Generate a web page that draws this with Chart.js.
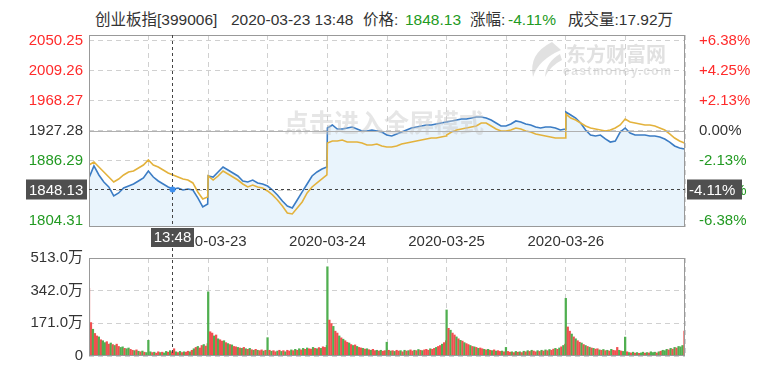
<!DOCTYPE html>
<html>
<head>
<meta charset="utf-8">
<script src="https://cdn.jsdelivr.net/npm/chart.js@4.4.1/dist/chart.umd.min.js"></script>
<style>
body { margin:0; background:#fff; width:770px; height:368px; overflow:hidden; position:relative;
       font-family:"Liberation Sans", Arial, "Noto Sans CJK SC", sans-serif; }
#head { position:absolute; top:11px; left:0; width:770px; height:18px; font-size:15.5px; line-height:18px; color:#333; white-space:nowrap; }
#head span { position:absolute; top:0; }
#head .g { color:#229a22; }
canvas { position:absolute; left:0; }
#priceCanvas { top:0; }
#volCanvas { top:243px; }
</style>
</head>
<body>
<div id="head">
  <span style="left:95px" id="hName"></span>
  <span style="left:231px" id="hTime"></span>
  <span style="left:363px">价格:</span>
  <span style="left:405px" class="g" id="hPrice"></span>
  <span style="left:470px">涨幅:</span>
  <span style="left:508px" class="g" id="hPct"></span>
  <span style="left:568px" id="hVol"></span>
</div>
<canvas id="priceCanvas" width="770" height="250"></canvas>
<canvas id="volCanvas" width="770" height="128"></canvas>
<script>
// info bar / crosshair
const indexName = '创业板指[399006]';
const crossTime = '2020-03-23 13:48';
const crossLabel = '13:48';
const crossPrice = 1848.13;
const crossVolume = '17.92万';
const prevClose = 1927.28;

// tanggal di garis pemisah hari
const dayLabels = ['2020-03-23', '2020-03-24', '2020-03-25', '2020-03-26'];
// label sumbu kiri & kanan
const priceTicks = [1804.31, 1845.30, 1886.29, 1927.28, 1968.27, 2009.26, 2050.25];
const volTicks = [0, 171, 342, 513];

// harga indeks, tiap 10 menit (25 titik per hari, 5 hari)
const indexLine = [
  1863.1,1879.5,1867.2,1857.6,1850.8,1838.5,1842.6,1849.4,1852.1,1854.9,1859.0,1863.1,1872.6,1864.4,1859.0,1854.9,1850.8,1848.1,1849.4,1846.7,1848.1,1846.7,1835.8,1823.5,1827.6,
  1865.8,1864.4,1871.3,1878.1,1874.0,1869.9,1865.8,1859.0,1857.6,1860.3,1856.3,1854.9,1852.1,1846.7,1839.9,1831.6,1824.8,1822.1,1833.0,1844.0,1854.9,1865.8,1871.3,1875.4,1878.1,
  1931.4,1935.5,1930.0,1930.0,1931.4,1932.7,1930.0,1927.3,1927.3,1928.6,1927.3,1925.9,1921.8,1920.4,1923.2,1925.9,1928.6,1931.4,1932.7,1934.1,1935.5,1935.5,1936.8,1938.2,1939.6,
  1939.6,1941.0,1942.3,1943.7,1943.7,1945.0,1946.4,1946.4,1945.0,1942.3,1938.2,1934.1,1934.1,1936.8,1941.0,1939.6,1936.8,1935.5,1932.7,1931.4,1932.7,1932.7,1931.4,1928.6,1930.0,
  1953.2,1949.1,1945.0,1938.2,1928.6,1921.8,1920.4,1921.8,1916.4,1912.2,1913.6,1925.9,1931.4,1924.5,1921.8,1921.8,1921.8,1920.4,1920.4,1919.1,1916.4,1912.2,1906.8,1904.1,1902.7
];
// garis kuning (rata-rata)
const avgLine = [
  1880.8,1884.9,1878.1,1871.3,1864.4,1857.6,1861.7,1867.2,1871.3,1872.6,1876.7,1880.8,1887.7,1880.8,1878.1,1874.0,1869.9,1867.2,1864.4,1861.7,1860.3,1856.3,1844.0,1834.4,1837.1,
  1865.8,1860.3,1865.8,1872.6,1868.5,1864.4,1860.3,1854.9,1850.8,1853.5,1850.8,1849.4,1845.3,1839.9,1833.0,1824.8,1815.3,1813.9,1822.1,1830.3,1842.6,1850.8,1856.3,1861.7,1867.2,
  1910.9,1913.6,1913.6,1915.0,1912.2,1912.2,1912.2,1910.9,1908.2,1908.2,1909.5,1906.8,1905.4,1905.4,1906.8,1909.5,1910.9,1912.2,1913.6,1915.0,1916.4,1917.7,1917.7,1919.1,1920.5,
  1921.8,1925.9,1928.6,1930.0,1931.4,1932.7,1934.1,1938.2,1938.2,1934.1,1930.0,1927.3,1927.3,1928.6,1931.4,1930.0,1927.3,1925.9,1923.2,1921.8,1920.4,1919.1,1917.7,1917.7,1917.7,
  1950.5,1945.0,1942.3,1938.2,1934.1,1931.4,1930.0,1928.6,1927.3,1928.6,1931.4,1935.5,1943.7,1939.6,1938.2,1936.8,1935.5,1935.5,1934.1,1931.4,1928.6,1923.2,1917.7,1913.6,1910.9
];
// volume (万), tiap 4 menit (61 batang per hari)
const volume = [
  354,175,140,118,105,100,85,80,70,75, 62,68,60,55,62,50,45,48,40,38, 42,35,30,28,32,25,22,26,20,18, 82,22,18,20,15,22,18,20,16,24, 20,28,22,38,22,18,24,18,22,20, 25,22,30,38,45,50,42,55,60,52, 65,
  336,127,120,105,110,90,85,78,80,70, 65,60,58,50,48,45,42,40,45,38, 35,40,33,30,35,30,28,32,26,30, 96,30,25,28,22,26,30,24,28,22, 30,26,32,28,35,30,38,32,40,35, 42,38,36,45,40,38,44,40,48,45, 55,
  467,188,170,155,130,120,105,95,88,80, 72,68,60,55,58,50,45,42,40,36, 38,33,30,35,28,30,26,30,25,28, 72,30,26,28,24,30,26,28,22,30, 26,28,32,26,30,28,34,30,28,32, 35,30,38,35,40,45,50,55,62,70, 80,
  241,145,135,120,110,100,90,82,78,70, 65,60,55,50,48,45,40,42,38,35, 32,35,30,28,32,26,28,24,26,22, 45,24,20,22,18,24,20,22,18,25, 22,28,24,30,26,22,28,24,30,26, 32,28,34,30,36,40,35,42,48,55, 62,
  302,152,130,115,100,90,80,72,68,60, 55,50,46,42,40,36,38,32,30,34, 28,30,26,35,30,28,45,30,26,24, 99,22,18,16,20,15,18,14,16,20, 15,18,16,22,18,20,16,22,25,30, 28,35,32,40,36,45,42,50,48,55, 131
];
// warna batang volume: r = naik, g = turun
const volSide = [
  'rrgrrgrggr' + 'rgrgrrggrg' + 'grrgrgrgrg' + 'ggrgrrgrgg' + 'rgrrgrgrgr' + 'rgrgrgrrgr' + 'r',
  'grrgrgrrgr' + 'grgrrgrgrg' + 'rgrgrgrrgr' + 'grgrrgrgrg' + 'rrgrgrgrgr' + 'grrgrgrgrr' + 'g',
  'grrgrrgrgr' + 'rgrgrgrrgr' + 'grgrrgrgrr' + 'grgrgrrgrg' + 'rgrrgrgrgr' + 'rrgrrgrrgr' + 'r',
  'grgrrgrgrg' + 'rrgrgrgrrg' + 'rgrgrgrrgr' + 'grrgrgrgrg' + 'rgrgrrgrgr' + 'grgrrgrgrg' + 'r',
  'grrgrgrrgr' + 'grgrgrrgrg' + 'rgrgrrrgrg' + 'grgrgrgrgg' + 'rgrgggrgrg' + 'ggrgrgrggg' + 'r'
].join('');

const RED = '#ff2b2b', GREEN = '#229a22', TEXT = '#333';
const FONT = '"Liberation Sans", Arial, "Noto Sans CJK SC", sans-serif';
const DAY = 241, DAYS = 5, LINE_STEP = 10, PER_DAY = 25, VOL_STEP = 4, VOL_PER_DAY = 61;
const crossX = 168; // 13:48 di hari pertama

const pct = v => (v / prevClose - 1) * 100;
const pctText = p => (Math.abs(p) < 1e-6 ? '0.00' : (p > 0 ? '+' : '') + p.toFixed(2)) + '%';
const colorFor = (v, base) => v > base + 1e-6 ? RED : (v < base - 1e-6 ? GREEN : TEXT);

document.getElementById('hName').textContent = indexName;
document.getElementById('hTime').textContent = crossTime;
document.getElementById('hPrice').textContent = crossPrice.toFixed(2);
document.getElementById('hPct').textContent = pct(crossPrice).toFixed(2) + '%';
document.getElementById('hVol').textContent = '成交量:' + crossVolume;

const toLine = arr => arr.map((v, i) => ({ x: Math.floor(i / PER_DAY) * DAY + (i % PER_DAY) * LINE_STEP, y: v }));
const volPts = volume.map((v, i) => ({ x: Math.floor(i / VOL_PER_DAY) * DAY + (i % VOL_PER_DAY) * VOL_STEP, y: v }));
const volColors = volume.map((v, i) => volSide.charAt(i) === 'g' ? 'rgb(80,175,80)' : 'rgb(240,80,80)');

const xMax = DAY * DAYS;
const gridX = [];
for (let k = 0; k <= 10; k++) gridX.push(k * xMax / 10);

// ruang kosong di atas/bawah label harga
const tickGap = priceTicks[1] - priceTicks[0];
const yMin = priceTicks[0] - tickGap * 0.2;
const yMax = priceTicks[priceTicks.length - 1] + tickGap * 0.2;

function strokeLine(ctx, x1, y1, x2, y2) {
    ctx.beginPath(); ctx.moveTo(x1, y1); ctx.lineTo(x2, y2); ctx.stroke();
}

const priceOverlay = {
    id: 'priceOverlay',
    afterDatasetsDraw(chart) {
        const ctx = chart.ctx;
        ctx.save();
        ctx.textAlign = 'center';
        ctx.textBaseline = 'middle';
        ctx.fillStyle = 'rgba(200,200,200,0.45)';
        ctx.font = 'bold 25px "Noto Sans CJK SC"';
        ctx.fillText('点击进入全屏模式', 384, 122);

        // logo eastmoney
        ctx.fillStyle = 'rgba(195,195,195,0.5)';
        ctx.beginPath();
        ctx.moveTo(552, 42);
        ctx.quadraticCurveTo(528, 54, 533, 77);
        ctx.quadraticCurveTo(538, 60, 561, 50);
        ctx.closePath();
        ctx.fill();
        ctx.beginPath();
        ctx.moveTo(560, 54);
        ctx.quadraticCurveTo(546, 62, 545, 77);
        ctx.quadraticCurveTo(550, 66, 562, 60);
        ctx.closePath();
        ctx.fill();
        ctx.textAlign = 'left';
        ctx.font = 'bold 20px "Noto Sans CJK SC"';
        ctx.fillText('东方财富网', 566, 54);
        ctx.font = 'bold 12px ' + FONT;
        if ('letterSpacing' in ctx) ctx.letterSpacing = '1.5px';
        ctx.fillText('eastmoney.com', 563, 72);
        ctx.restore();
    },
    afterDraw(chart) {
        const { ctx, chartArea: a, scales } = chart;
        const x = scales.x, y = scales.y;
        ctx.save();
        ctx.lineWidth = 1;

        const y0 = Math.round(y.getPixelForValue(prevClose)) + 0.5;
        ctx.strokeStyle = '#b0b0b0';
        strokeLine(ctx, a.left, y0, a.right, y0);

        ctx.strokeStyle = '#999';
        ctx.strokeRect(a.left + 0.5, a.top + 0.5, a.width - 1, a.height - 1);

        // crosshair
        const cx = Math.round(x.getPixelForValue(crossX)) + 0.5;
        const cy = Math.round(y.getPixelForValue(crossPrice)) + 0.5;
        ctx.strokeStyle = '#444';
        ctx.setLineDash([3, 3]);
        strokeLine(ctx, cx, a.top, cx, a.bottom);
        strokeLine(ctx, a.left, cy, a.right, cy);
        ctx.setLineDash([]);
        ctx.fillStyle = '#3d8fef';
        ctx.beginPath(); ctx.arc(cx, cy, 3, 0, Math.PI * 2); ctx.fill();

        ctx.font = '15px ' + FONT;
        ctx.textBaseline = 'middle';
        ctx.fillStyle = '#4f4f4f';
        ctx.fillRect(26, cy - 10, a.left - 28, 20);
        ctx.fillRect(a.right + 2, cy - 10, 55, 20);
        ctx.fillRect(cx - 21.5, a.bottom + 1, 43, 19);
        ctx.fillStyle = '#fff';
        ctx.textAlign = 'left';
        ctx.fillText(crossPrice.toFixed(2), 29, cy + 1);
        ctx.fillText(pct(crossPrice).toFixed(2) + '%', a.right + 4, cy + 1);
        ctx.textAlign = 'center';
        ctx.fillText(crossLabel, cx, a.bottom + 11);
        ctx.restore();
    }
};

const volOverlay = {
    id: 'volOverlay',
    afterDraw(chart) {
        const { ctx, chartArea: a } = chart;
        ctx.save();
        ctx.lineWidth = 1;
        ctx.strokeStyle = '#999';
        ctx.strokeRect(a.left + 0.5, a.top + 0.5, a.width - 1, a.height - 1);
        const cx = Math.round(chart.scales.x.getPixelForValue(crossX)) + 0.5;
        ctx.strokeStyle = '#444';
        ctx.setLineDash([3, 3]);
        strokeLine(ctx, cx, a.top - 10, cx, a.bottom);
        ctx.restore();
    }
};

const gridStyle = { color: '#d0d0d0', drawTicks: false, offset: false };
const dashStyle = { display: false, dash: [5, 4] };

new Chart(document.getElementById('priceCanvas'), {
    type: 'line',
    data: {
        datasets: [
            {
                label: '指数',
                data: toLine(indexLine),
                borderColor: '#3b7cc4',
                borderWidth: 1.6,
                backgroundColor: '#e9f4fc',
                fill: 'start',
                pointRadius: 0,
                tension: 0,
                order: 2
            },
            {
                label: '均价',
                data: toLine(avgLine),
                borderColor: '#e3b23c',
                borderWidth: 1.6,
                fill: false,
                pointRadius: 0,
                tension: 0,
                order: 1
            }
        ]
    },
    options: {
        responsive: false,
        animation: false,
        events: [],
        layout: { padding: { top: 35, left: 0, right: 0, bottom: 0 } },
        plugins: { legend: { display: false }, tooltip: { enabled: false } },
        scales: {
            x: {
                type: 'linear', min: 0, max: xMax, offset: false,
                afterBuildTicks: s => { s.ticks = gridX.map(v => ({ value: v })); },
                afterFit: s => { s.height = 23; },
                grid: gridStyle, border: dashStyle,
                ticks: {
                    autoSkip: false, maxRotation: 0, padding: 6, color: TEXT,
                    font: { size: 15, family: FONT },
                    callback: (v, i) => (i % 2 === 0 && i > 0 && i < 10) ? dayLabels[i / 2 - 1] : ''
                }
            },
            y: {
                position: 'left', min: yMin, max: yMax,
                afterBuildTicks: s => { s.ticks = priceTicks.map(v => ({ value: v })); },
                afterFit: s => { s.width = 89; },
                grid: gridStyle, border: dashStyle,
                ticks: {
                    autoSkip: false, padding: 6,
                    font: { size: 15, family: FONT },
                    color: c => colorFor(c.tick.value, prevClose),
                    callback: v => v.toFixed(2)
                }
            },
            y2: {
                position: 'right', min: pct(yMin), max: pct(yMax),
                afterBuildTicks: s => { s.ticks = priceTicks.map(v => ({ value: pct(v) })); },
                afterFit: s => { s.width = 85; },
                grid: { display: false }, border: { display: false },
                ticks: {
                    autoSkip: false, padding: 6,
                    font: { size: 15, family: FONT },
                    color: c => colorFor(c.tick.value, 0),
                    callback: v => pctText(v)
                }
            }
        }
    },
    plugins: [priceOverlay]
});

new Chart(document.getElementById('volCanvas'), {
    type: 'bar',
    data: {
        datasets: [{
            label: '成交量',
            data: volPts,
            backgroundColor: volColors,
            barThickness: 1.6,
            borderWidth: 0
        }]
    },
    options: {
        responsive: false,
        animation: false,
        events: [],
        layout: { padding: { top: 0, left: 0, right: 85, bottom: 0 } },
        plugins: { legend: { display: false }, tooltip: { enabled: false } },
        scales: {
            x: {
                type: 'linear', min: 0, max: xMax, offset: false,
                afterBuildTicks: s => { s.ticks = gridX.map(v => ({ value: v })); },
                afterFit: s => { s.height = 12; },
                grid: gridStyle, border: dashStyle,
                ticks: { display: false }
            },
            y: {
                min: 0, max: volTicks[volTicks.length - 1],
                afterBuildTicks: s => { s.ticks = volTicks.map(v => ({ value: v })); },
                afterFit: s => { s.width = 89; },
                grid: gridStyle, border: dashStyle,
                ticks: {
                    autoSkip: false, padding: 6, color: TEXT,
                    font: { size: 15, family: FONT },
                    callback: v => v === 0 ? '0' : v.toFixed(1) + '万'
                }
            }
        }
    },
    plugins: [volOverlay]
});
</script>
</body>
</html>
